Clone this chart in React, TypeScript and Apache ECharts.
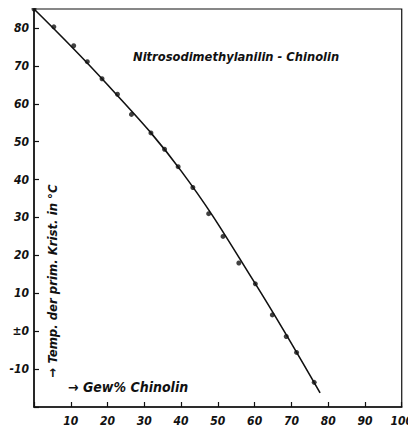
import React, { useEffect, useRef } from "react";
import * as echarts from "echarts";

const pointX = [0, 5.4, 10.8, 14.5, 18.5, 22.7, 26.5, 31.8, 35.5, 39.2, 43.2, 47.5, 51.4, 55.7, 60.2, 64.8, 68.6, 71.4, 76.2];
const pointY = [85, 80.3, 75.3, 71.1, 66.6, 62.5, 57.2, 52.3, 48, 43.4, 37.9, 31, 25, 18, 12.5, 4.3, -1.4, -5.6, -13.5];
const curveX = [0, 20, 40, 60, 77.8];
const curveY = [85, 65, 42.3, 12.8, -16.3];
const xTickLabels = ["10", "20", "30", "40", "50", "60", "70", "80", "90", "100"];
const yTickLabels = ["-10", "±0", "10", "20", "30", "40", "50", "60", "70", "80"];
const yTickValues = [-10, 0, 10, 20, 30, 40, 50, 60, 70, 80];
const xTickValues = [10, 20, 30, 40, 50, 60, 70, 80, 90, 100];
const title = "Nitrosodimethylanilin - Chinolin";
const xName = "→ Gew% Chinolin";
const yName = "→ Temp. der prim. Krist. in °C";

const FONT = "'DejaVu Sans Condensed', 'Liberation Sans Narrow', 'DejaVu Sans', sans-serif";
const INK = "#111";

export default function App() {
  const ref = useRef<HTMLDivElement>(null);
  useEffect(() => {
    if (!ref.current) return;
    const chart = echarts.init(ref.current, undefined, { renderer: "svg" });
    chart.setOption({
      animation: false,
      backgroundColor: "#fff",
      grid: {
        left: 34,
        right: 6,
        top: 9,
        bottom: 26,
        show: true,
        borderColor: INK,
        borderWidth: 1.2,
      },
      xAxis: {
        type: "value",
        min: 0,
        max: 100,
        interval: 10,
        splitLine: { show: false },
        axisLine: { onZero: false, lineStyle: { color: INK, width: 1.5 } },
        axisTick: { inside: true, length: 5, lineStyle: { color: INK, width: 1.2 } },
        axisLabel: {
          color: INK,
          fontFamily: FONT,
          fontStyle: "italic",
          fontWeight: "bold",
          fontSize: 12,
          margin: 8,
          formatter: (v: number) => {
            const i = xTickValues.indexOf(v);
            return i >= 0 ? xTickLabels[i] : "";
          },
        },
      },
      yAxis: {
        type: "value",
        min: -20,
        max: 85,
        interval: 10,
        splitLine: { show: false },
        axisLine: { onZero: false, lineStyle: { color: INK, width: 1.5 } },
        axisTick: { inside: true, length: 5, lineStyle: { color: INK, width: 1.2 } },
        axisLabel: {
          color: INK,
          fontFamily: FONT,
          fontStyle: "italic",
          fontWeight: "bold",
          fontSize: 12,
          margin: 5,
          showMaxLabel: false,
          formatter: (v: number) => {
            const i = yTickValues.indexOf(v);
            return i >= 0 ? yTickLabels[i] : "";
          },
        },
      },
      series: [
        {
          type: "line",
          data: curveX.map((x, i) => [x, curveY[i]]),
          smooth: 0.4,
          showSymbol: false,
          lineStyle: { color: INK, width: 1.6 },
          z: 2,
        },
        {
          type: "scatter",
          data: pointX.map((x, i) => [x, pointY[i]]),
          symbol: "circle",
          symbolSize: 5,
          itemStyle: { color: INK },
          z: 3,
        },
      ],
      graphic: [
        {
          type: "text",
          left: 133,
          top: 50,
          style: {
            text: title,
            fill: INK,
            font: `italic bold 12.8px ${FONT}`,
          },
        },
        {
          type: "text",
          left: 68,
          top: 380,
          style: {
            text: xName,
            fill: INK,
            font: `italic bold 14px ${FONT}`,
          },
        },
        {
          type: "text",
          x: 52,
          y: 281,
          rotation: Math.PI / 2,
          style: {
            text: yName,
            fill: INK,
            font: `italic bold 13px ${FONT}`,
            align: "center",
            verticalAlign: "middle",
          },
        },
      ],
    });
    return () => chart.dispose();
  }, []);
  return <div ref={ref} style={{ width: 416, height: 433, margin: -8 }} />;
}
